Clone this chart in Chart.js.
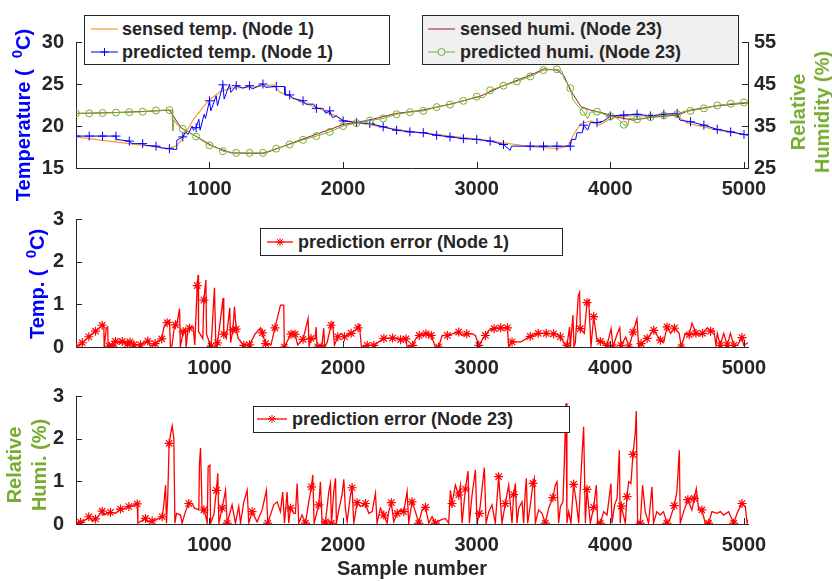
<!DOCTYPE html>
<html>
<head>
<meta charset="utf-8">
<script src="https://cdn.jsdelivr.net/npm/chart.js@4.4.0/dist/chart.umd.min.js"></script>
<style>
  html, body { margin: 0; padding: 0; background: #fff; }
  #wrap { position: relative; width: 832px; height: 581px; overflow: hidden;
          font-family: 'Liberation Sans', Arial, sans-serif; font-weight: bold; color: #262626; }
  #wrap canvas { position: absolute; left: 0; top: 0; }
  .ylab { position: absolute; transform: translate(-50%, -50%) rotate(-90deg); white-space: nowrap;
          font-size: 20px; line-height: 24px; text-align: center; z-index: 5; }
  .sup { font-size: 15px; position: relative; top: -8px; }
  .leg { position: absolute; box-sizing: border-box; border: 1px solid #262626; background: #fff;
         font-size: 18px; z-index: 5; }
  .row { position: absolute; height: 22px; display: flex; align-items: center; white-space: nowrap; }
  .row svg { display: block; }
</style>
</head>
<body>
<div id="wrap">
  <canvas id="cTop" width="832" height="581"></canvas>
  <canvas id="cMid" width="832" height="581"></canvas>
  <canvas id="cBot" width="832" height="581"></canvas>

  <div class="ylab" style="left:24px;top:115px;color:#0000FF">Temperature (&nbsp;&nbsp;<span class="sup">0</span>C)</div>
  <div class="ylab" style="left:810px;top:112px;color:#77AC30">Relative<br>Humidity (%)</div>
  <div class="ylab" style="left:38px;top:284px;color:#0000FF">Temp. (&nbsp;&nbsp;<span class="sup">0</span>C)</div>
  <div class="ylab" style="left:27px;top:465px;color:#77AC30;line-height:25px">Relative<br>Humi. (%)</div>
  <div style="position:absolute;left:412px;top:568px;transform:translate(-50%,-50%);font-size:20px;white-space:nowrap">Sample number</div>

  <div class="leg" style="left:84px;top:15px;width:306px;height:50px">
    <div class="row" style="left:6px;top:2px"><svg width="27" height="22"><line x1="0" y1="11" x2="27" y2="11" stroke="#F0A030" stroke-width="1.2"/></svg><span style="margin-left:4px">sensed temp. (Node 1)</span></div>
    <div class="row" style="left:6px;top:25px"><svg width="27" height="22"><line x1="0" y1="11" x2="27" y2="11" stroke="#0000FF" stroke-width="1"/><path d="M13.5 7v8M9.5 11h8" stroke="#0000FF" stroke-width="1"/></svg><span style="margin-left:4px">predicted temp. (Node 1)</span></div>
  </div>
  <div class="leg" style="left:422px;top:15px;width:317px;height:50px;background:#F0F0F0">
    <div class="row" style="left:5px;top:2px"><svg width="27" height="22"><line x1="0" y1="11" x2="27" y2="11" stroke="#A2142F" stroke-width="1"/></svg><span style="margin-left:5px">sensed humi. (Node 23)</span></div>
    <div class="row" style="left:5px;top:25px"><svg width="27" height="22"><line x1="0" y1="11" x2="27" y2="11" stroke="#77AC30" stroke-width="1"/><circle cx="13.5" cy="11" r="3.5" fill="#F0F0F0" stroke="#77AC30" stroke-width="1"/></svg><span style="margin-left:5px">predicted humi. (Node 23)</span></div>
  </div>
  <div class="leg" style="left:260px;top:228px;width:303px;height:28px">
    <div class="row" style="left:6px;top:2px"><svg width="26" height="22"><line x1="0" y1="11" x2="26" y2="11" stroke="#FF0000" stroke-width="1.3"/><path d="M13 7v8M9 11h8M10.2 8.2l5.6 5.6M15.8 8.2l-5.6 5.6" stroke="#FF0000" stroke-width="1"/></svg><span style="margin-left:5px">prediction error (Node 1)</span></div>
  </div>
  <div class="leg" style="left:253px;top:406px;width:317px;height:27px">
    <div class="row" style="left:3px;top:1px"><svg width="30" height="22"><line x1="0" y1="11" x2="30" y2="11" stroke="#FF0000" stroke-width="1.3"/><path d="M15 7v8M11 11h8M12.2 8.2l5.6 5.6M17.8 8.2l-5.6 5.6" stroke="#FF0000" stroke-width="1"/></svg><span style="margin-left:5px">prediction error (Node 23)</span></div>
  </div>
</div>

<script>
// x axis (sample number)
var xMin = 1, xMax = 5030;
var xTicks = [1000, 2000, 3000, 4000, 5000];
var tempTicks = [15, 20, 25, 30];
var humiTicks = [25, 35, 45, 55];
var errTicks = [0, 1, 2, 3];

// top plot: [sample, value]
var tempSensed = [[1,18.7],[200,18.3],[400,17.9],[600,17.5],[680,17.3],[750,17.6],[800,18.5],[880,20.8],[950,22.2],[1000,23.1],[1080,24.1],[1160,24.5],[1300,24.6],[1430,24.8],[1480,24.9],[1530,24.0],[1600,23.6],[1680,22.9],[1800,22.2],[1930,21.3],[2000,20.7],[2180,20.2],[2400,19.6],[2580,19.2],[2800,18.8],[3020,18.4],[3200,18.0],[3430,17.5],[3600,17.3],[3680,17.6],[3730,19.1],[3780,20.3],[3860,20.6],[3920,20.1],[3980,20.7],[4050,21.1],[4170,21.2],[4300,21.2],[4470,21.4],[4520,21.0],[4580,20.3],[4700,19.9],[4800,19.5],[4900,19.3],[5030,18.9]];
var tempPredicted = [[1,18.8],[100,18.8],[200,18.8],[300,18.8],[305,18.4],[400,18.2],[420,17.9],[500,17.9],[520,17.7],[600,17.6],[640,17.4],[700,17.3],[750,17.2],[755,18.3],[800,18.7],[820,19.3],[840,19.0],[870,20.0],[880,19.5],[900,19.8],[920,20.8],[930,19.5],[960,21.4],[970,20.9],[1000,23.0],[1010,21.8],[1050,23.6],[1060,22.4],[1100,24.9],[1110,23.2],[1150,25.0],[1160,24.0],[1200,24.8],[1250,24.5],[1300,24.8],[1320,24.4],[1400,25.0],[1420,24.6],[1500,24.7],[1560,24.7],[1565,23.7],[1600,23.7],[1620,23.3],[1700,23.0],[1720,22.6],[1780,22.6],[1800,22.1],[1850,22.1],[1870,21.5],[1900,21.8],[1920,21.0],[1950,21.2],[2000,20.6],[2060,20.5],[2100,20.4],[2200,20.3],[2300,19.9],[2400,19.5],[2500,19.3],[2600,19.2],[2700,18.9],[2800,18.7],[2900,18.5],[3000,18.4],[3100,18.2],[3200,17.8],[3250,17.1],[3260,17.6],[3400,17.6],[3500,17.6],[3600,17.6],[3700,17.6],[3710,18.4],[3740,18.4],[3750,19.2],[3790,19.2],[3800,20.1],[3830,19.5],[3850,20.4],[3900,20.4],[3950,20.6],[4000,21.2],[4100,21.3],[4200,21.4],[4300,21.2],[4400,21.4],[4500,21.5],[4520,20.7],[4600,20.5],[4700,20.1],[4800,19.6],[4900,19.3],[5000,19.0],[5030,18.9]];
var humiSensed = [[1,38.0],[300,38.2],[600,38.6],[700,38.8],[750,36.4],[790,34.5],[880,32.9],[1030,30.1],[1160,28.6],[1300,28.5],[1410,28.5],[1480,29.3],[1680,31.7],[1930,34.5],[2000,35.4],[2180,36.3],[2400,38.0],[2580,38.7],[2800,40.2],[3020,42.0],[3200,44.6],[3430,47.5],[3500,48.6],[3600,48.3],[3650,47.1],[3700,43.6],[3780,39.6],[3850,38.8],[3930,38.2],[4050,37.1],[4170,36.4],[4320,37.1],[4500,37.6],[4600,38.8],[4800,39.8],[5030,40.5]];
var humiPredicted = [[1,38.0],[100,38.0],[200,38.1],[300,38.2],[400,38.3],[500,38.4],[600,38.7],[700,38.8],[720,38.8],[725,33.8],[735,36.5],[760,35.2],[800,34.3],[900,32.5],[1000,30.4],[1050,30.0],[1100,29.0],[1200,28.6],[1300,28.6],[1400,28.6],[1500,29.6],[1600,30.6],[1700,31.7],[1800,32.6],[1900,33.6],[2000,35.0],[2100,35.7],[2200,36.3],[2300,36.8],[2400,37.8],[2500,38.3],[2600,38.6],[2700,39.5],[2800,40.1],[2900,41.0],[3000,42.0],[3050,41.7],[3100,43.5],[3200,44.6],[3300,45.6],[3400,46.8],[3500,48.3],[3600,48.5],[3640,48.0],[3650,46.5],[3700,44.0],[3720,41.3],[3760,39.6],[3800,38.4],[3830,36.7],[3850,38.3],[3900,38.4],[4000,37.3],[4050,36.9],[4100,35.3],[4130,35.0],[4140,36.8],[4200,36.6],[4300,37.1],[4400,37.5],[4500,37.8],[4550,38.5],[4600,38.6],[4700,39.2],[4800,39.9],[4900,40.3],[5000,40.6],[5030,40.6]];

// middle plot: temperature prediction error, node 1
var errTemp = [[1,0],[48,0.1],[97,0.24],[147,0.37],[197,0.51],[209,0.53],[212,0],[228,0.45],[238,0.47],[242,0],[259,0.03],[297,0.13],[337,0.09],[347,0.13],[385,0.07],[405,0.12],[434,0.05],[484,0.05],[538,0.14],[557,0.02],[593,0.08],[643,0.19],[658,0.45],[683,0.57],[700,0.62],[708,0],[720,0.04],[738,0.5],[760,0.6],[776,0.9],[782,0],[803,0.36],[820,0.44],[825,0],[840,0.42],[878,0.47],[890,0.05],[908,1.44],[915,1.69],[918,0.36],[950,0.2],[958,1.1],[973,1.57],[978,0.3],[1000,0.1],[1012,0],[1037,1.39],[1048,0],[1060,0.1],[1102,1.15],[1107,0.3],[1125,0.2],[1152,0.92],[1158,0.1],[1175,0.4],[1187,0.94],[1200,0.42],[1215,0.2],[1257,0.04],[1300,0.05],[1340,0.3],[1382,0.45],[1395,0.33],[1420,0.08],[1460,0.05],[1490,0.45],[1531,0.98],[1556,0.98],[1560,0],[1610,0.3],[1640,0.3],[1660,0.05],[1700,0.18],[1738,0.67],[1745,0.02],[1760,0.2],[1790,0.18],[1798,0.47],[1805,0],[1840,0],[1855,0.44],[1862,0],[1880,0.1],[1910,0.51],[1922,0.57],[1935,0.04],[1960,0.24],[1985,0.32],[2010,0.24],[2060,0.32],[2090,0.39],[2112,0.45],[2122,0.51],[2137,0],[2180,0.04],[2230,0.04],[2267,0.12],[2305,0.2],[2370,0.21],[2400,0.2],[2430,0.17],[2470,0.19],[2479,0],[2520,0.04],[2545,0.2],[2570,0.27],[2620,0.31],[2660,0.27],[2690,0],[2715,0],[2741,0.27],[2780,0.27],[2815,0.31],[2865,0.35],[2890,0.27],[2925,0.31],[2965,0.31],[2990,0.27],[3015,0.04],[3040,0.16],[3065,0.27],[3090,0.39],[3130,0.43],[3180,0.45],[3230,0.45],[3239,0],[3264,0.12],[3330,0.12],[3400,0.25],[3460,0.32],[3520,0.32],[3600,0.3],[3626,0.24],[3660,0.05],[3675,0.04],[3695,0.47],[3700,0],[3720,0.75],[3728,0],[3738,0.1],[3760,1.2],[3770,1.28],[3775,0.43],[3805,0.32],[3825,1.04],[3838,1.1],[3855,0],[3875,0.71],[3900,0.15],[3925,0.13],[3975,0.04],[4005,0.43],[4020,0],[4050,0.3],[4070,0.45],[4080,0.04],[4115,0.23],[4140,0],[4170,0.35],[4199,0.66],[4212,0],[4230,0.08],[4275,0.2],[4325,0.39],[4350,0.27],[4375,0.16],[4400,0.12],[4424,0.47],[4450,0.32],[4480,0.44],[4515,0.32],[4530,0],[4560,0.32],[4590,0.29],[4611,0.56],[4640,0.32],[4675,0.29],[4690,0.32],[4725,0.45],[4750,0.37],[4775,0.37],[4790,0.04],[4800,0.32],[4823,0.04],[4848,0.32],[4875,0.04],[4898,0.32],[4925,0.04],[4950,0.04],[4985,0.22],[4998,0.04],[5030,0.1]];
var errTempMarks = [[1,0],[48,0.1],[97,0.24],[147,0.37],[197,0.51],[250,0.02],[275,0.02],[297,0.13],[347,0.13],[385,0.07],[405,0.12],[434,0.05],[484,0.05],[538,0.14],[593,0.08],[643,0.19],[683,0.57],[745,0.52],[803,0.36],[850,0.44],[908,1.44],[958,1.1],[1012,0.02],[1060,0.1],[1107,0.3],[1175,0.4],[1200,0.42],[1257,0.04],[1300,0.05],[1395,0.33],[1420,0.08],[1490,0.45],[1560,0],[1610,0.3],[1640,0.3],[1700,0.18],[1760,0.2],[1810,0],[1840,0],[1910,0.51],[1960,0.24],[2010,0.24],[2060,0.32],[2112,0.45],[2180,0.04],[2230,0.04],[2305,0.2],[2370,0.21],[2430,0.17],[2470,0.19],[2520,0.04],[2570,0.27],[2620,0.31],[2660,0.27],[2715,0],[2780,0.27],[2865,0.35],[2925,0.31],[3015,0.04],[3065,0.27],[3130,0.43],[3180,0.45],[3230,0.45],[3264,0.12],[3400,0.25],[3460,0.32],[3520,0.32],[3575,0.31],[3626,0.24],[3675,0.04],[3775,0.43],[3825,1.04],[3875,0.71],[3925,0.13],[3975,0.04],[4020,0],[4080,0.04],[4140,0],[4170,0.35],[4230,0.08],[4275,0.2],[4325,0.39],[4375,0.16],[4424,0.47],[4480,0.44],[4530,0],[4590,0.29],[4640,0.32],[4690,0.32],[4750,0.37],[4823,0.04],[4875,0.04],[4925,0.04],[4985,0.22]];

// bottom plot: humidity prediction error, node 23
var errHumi = [[1,0],[35,0.04],[85,0.12],[97,0.17],[122,0.07],[147,0.12],[160,0.15],[197,0.3],[210,0.21],[235,0.25],[259,0.27],[297,0.25],[334,0.35],[372,0.37],[397,0.41],[422,0.43],[459,0.47],[464,0.02],[521,0.13],[534,0.05],[571,0.07],[621,0.13],[646,0.17],[658,0.44],[671,0.91],[678,0.02],[688,0.68],[698,1.89],[708,2.09],[721,2.3],[733,2.0],[741,0.02],[753,0.25],[783,0.21],[795,0.02],[820,0.29],[845,0.48],[870,0.48],[888,0.37],[920,0.33],[925,1.42],[933,1.78],[945,0.29],[958,0.33],[970,0.21],[983,0.02],[990,1.34],[1003,1.38],[1008,0.02],[1032,0.21],[1052,0.79],[1062,1.19],[1070,0.02],[1095,0.37],[1120,0.79],[1132,0.02],[1169,0.45],[1194,0.02],[1219,0.41],[1232,0.02],[1257,0.52],[1282,0.79],[1294,0.02],[1319,0.29],[1356,0.05],[1394,0.33],[1426,0.79],[1436,0.02],[1481,0.45],[1506,0.52],[1531,0.29],[1548,0.75],[1561,0.02],[1581,0.75],[1593,0.02],[1606,0.37],[1631,0.25],[1643,0.25],[1656,0.95],[1668,0.02],[1693,0.21],[1718,0.02],[1743,0.52],[1763,0.87],[1773,1.15],[1783,0.02],[1805,0.29],[1818,0.45],[1830,0.99],[1843,0.02],[1868,0.05],[1893,0.76],[1905,0.95],[1913,0.02],[1930,0.76],[1943,1.07],[1950,0.02],[1968,0.33],[1992,0.68],[2005,1.05],[2017,0.37],[2030,0.05],[2055,0.68],[2067,0.85],[2080,0.02],[2105,0.5],[2129,0.41],[2167,0.48],[2192,0.25],[2217,0.29],[2242,0.72],[2254,0.02],[2279,0.37],[2304,0.21],[2329,0.02],[2341,0.29],[2361,0.5],[2379,0.05],[2404,0.25],[2429,0.33],[2454,0.29],[2479,0.76],[2491,0.02],[2516,0.52],[2541,0.29],[2566,0.02],[2591,0.33],[2616,0.39],[2641,0.02],[2666,0.17],[2690,0.02],[2728,0.09],[2765,0.13],[2790,0.02],[2803,0.79],[2815,0.48],[2840,0.91],[2865,0.68],[2878,0.91],[2890,0.02],[2915,0.82],[2935,1.24],[2945,0.02],[2965,0.68],[2990,1.27],[3002,0.02],[3020,0.25],[3040,0.83],[3057,1.32],[3070,0.02],[3090,0.29],[3114,0.45],[3139,0.02],[3164,1.11],[3189,0.02],[3214,0.48],[3239,0.91],[3264,0.02],[3276,0.69],[3289,0.95],[3301,0.02],[3314,0.37],[3339,0.52],[3351,0.02],[3364,0.79],[3371,1.07],[3381,0.02],[3401,0.45],[3421,0.95],[3431,1.07],[3438,0.02],[3463,0.33],[3488,0.25],[3513,0.02],[3538,0.37],[3570,0.62],[3588,0.91],[3601,0.99],[3613,0.02],[3626,0.41],[3645,0.52],[3655,1.38],[3668,2.83],[3675,0.02],[3688,0.29],[3705,0.02],[3725,0.93],[3745,0.52],[3763,0.02],[3775,0.83],[3788,1.62],[3800,2.28],[3813,0.02],[3825,0.81],[3850,0.02],[3875,0.39],[3895,0.91],[3905,0.02],[3925,0.02],[3950,0.29],[3975,0.21],[4004,0.95],[4012,0.02],[4032,0.45],[4050,0.6],[4067,1.73],[4074,0.02],[4082,0.42],[4112,0.02],[4124,0.64],[4137,0.99],[4154,0.95],[4169,1.63],[4187,2.16],[4194,2.65],[4204,0.02],[4224,0.02],[4241,0.91],[4261,0.29],[4286,0.02],[4311,0.87],[4323,0.02],[4348,0.29],[4373,0.21],[4398,0.29],[4423,0.02],[4448,0.13],[4478,0.43],[4498,0.76],[4516,1.73],[4523,0.02],[4548,0.29],[4580,0.57],[4610,0.33],[4628,0.6],[4643,0.83],[4661,0.33],[4685,0.33],[4710,0.02],[4735,0.02],[4760,0.29],[4798,0.25],[4823,0.29],[4848,0.21],[4885,0.29],[4923,0.02],[4948,0.25],[4973,0.41],[4985,0.48],[5010,0.41],[5023,0.02],[5030,0.1]];
var errHumiMarks = [[1,0],[35,0.04],[97,0.17],[147,0.12],[197,0.3],[259,0.27],[334,0.35],[397,0.41],[459,0.47],[521,0.13],[571,0.07],[646,0.17],[698,1.89],[845,0.48],[958,0.33],[1052,0.79],[1095,0.37],[1132,0.02],[1319,0.29],[1436,0.02],[1606,0.37],[1718,0.02],[1763,0.87],[1818,0.45],[1868,0.05],[1913,0.02],[2067,0.85],[2105,0.5],[2167,0.48],[2304,0.21],[2361,0.5],[2404,0.25],[2454,0.29],[2516,0.52],[2566,0.02],[2616,0.39],[2690,0.02],[2815,0.48],[2865,0.68],[2915,0.82],[3020,0.25],[3164,1.11],[3214,0.48],[3276,0.69],[3421,0.95],[3513,0.02],[3570,0.62],[3725,0.93],[3825,0.81],[3875,0.39],[3925,0.02],[4082,0.42],[4124,0.64],[4169,1.63],[4224,0.02],[4423,0.02],[4478,0.43],[4580,0.57],[4628,0.6],[4685,0.33],[4735,0.02],[4923,0.02],[4985,0.48]];

var axisColor = '#262626';
var tickFont = { family: "'Liberation Sans', Arial, sans-serif", size: 20, weight: 'bold' };

function pts(list) {
  return list.map(function (p) { return { x: p[0], y: p[1] }; });
}

// MATLAB style ticks pointing into the plot
var inwardTicks = {
  id: 'inwardTicks',
  afterDraw: function (chart) {
    var ctx = chart.ctx, a = chart.chartArea;
    ctx.save();
    ctx.strokeStyle = axisColor;
    ctx.lineWidth = 1;
    Object.values(chart.scales).forEach(function (s) {
      s.ticks.forEach(function (t) {
        var p = Math.round(s.getPixelForValue(t.value)) + 0.5;
        ctx.beginPath();
        if (s.axis === 'x') { ctx.moveTo(p, a.bottom); ctx.lineTo(p, a.bottom - 6); }
        else if (s.position === 'left') { ctx.moveTo(a.left, p); ctx.lineTo(a.left + 6, p); }
        else { ctx.moveTo(a.right, p); ctx.lineTo(a.right - 6, p); }
        ctx.stroke();
      });
    });
    ctx.restore();
  }
};

function xScale() {
  return {
    type: 'linear', min: xMin, max: xMax,
    afterBuildTicks: function (s) { s.ticks = xTicks.map(function (v) { return { value: v }; }); },
    afterFit: function (s) { s.height = 35; },
    grid: { display: false, drawTicks: false },
    border: { color: axisColor, width: 1 },
    ticks: { padding: 9, color: axisColor, font: tickFont, maxRotation: 0, autoSkip: false,
             callback: function (v) { return String(v); } }
  };
}

function yScale(pos, lo, hi, list, width) {
  return {
    type: 'linear', position: pos, min: lo, max: hi,
    afterBuildTicks: function (s) { s.ticks = list.map(function (v) { return { value: v }; }); },
    afterFit: function (s) { s.width = width; },
    grid: { display: false, drawTicks: false },
    border: { color: axisColor, width: 1 },
    ticks: { padding: pos === 'left' ? 12 : 6, color: axisColor, font: tickFont, autoSkip: false,
             callback: function (v) { return String(v); } }
  };
}

function baseOptions(pad) {
  return {
    responsive: false, animation: false, events: [],
    layout: { padding: pad },
    plugins: { legend: { display: false }, tooltip: { enabled: false } }
  };
}

function every100(ctx) {
  var r = ctx.raw;
  return r && (r.x === 1 || r.x % 100 === 0);
}

// top: temperature (left) and humidity (right)
var topOpts = baseOptions({ top: 42, bottom: 378, left: 0, right: 0 });
topOpts.scales = {
  x: xScale(),
  yT: yScale('left', 15, 30, tempTicks, 76),
  yH: yScale('right', 25, 55, humiTicks, 84)
};
new Chart(document.getElementById('cTop'), {
  type: 'line',
  data: {
    datasets: [
      { label: 'sensed temp. (Node 1)', data: pts(tempSensed), yAxisID: 'yT', order: 4,
        borderColor: '#F0A030', borderWidth: 1.2, pointRadius: 0 },
      { label: 'predicted temp. (Node 1)', data: pts(tempPredicted), yAxisID: 'yT', order: 3,
        borderColor: '#0000FF', borderWidth: 1, pointStyle: 'cross',
        pointRadius: function (c) { return every100(c) ? 4.5 : 0; },
        pointBorderColor: '#0000FF', pointBorderWidth: 1 },
      { label: 'sensed humi. (Node 23)', data: pts(humiSensed), yAxisID: 'yH', order: 2,
        borderColor: '#A2142F', borderWidth: 1, pointRadius: 0 },
      { label: 'predicted humi. (Node 23)', data: pts(humiPredicted), yAxisID: 'yH', order: 1,
        borderColor: '#77AC30', borderWidth: 1, pointStyle: 'circle',
        pointRadius: function (c) { return every100(c) ? 3.5 : 0; },
        pointBorderColor: '#77AC30', pointBackgroundColor: 'rgba(0,0,0,0)', pointBorderWidth: 1 }
    ]
  },
  options: topOpts,
  plugins: [inwardTicks]
});

function errorChart(id, pad, line, marks) {
  var opts = baseOptions(pad);
  opts.scales = { x: xScale(), y: yScale('left', 0, 3, errTicks, 76) };
  new Chart(document.getElementById(id), {
    type: 'line',
    data: {
      datasets: [
        { label: 'prediction error', data: pts(line), borderColor: '#FF0000', borderWidth: 1.3, pointRadius: 0 },
        { label: 'markers', data: pts(marks), showLine: false, pointStyle: 'star', pointRadius: 4.5,
          pointBorderColor: '#FF0000', pointBorderWidth: 1.2 }
      ]
    },
    options: opts,
    plugins: [inwardTicks]
  });
}

errorChart('cMid', { top: 219, bottom: 199, left: 0, right: 84 }, errTemp, errTempMarks);
errorChart('cBot', { top: 396, bottom: 22, left: 0, right: 84 }, errHumi, errHumiMarks);
</script>
</body>
</html>
